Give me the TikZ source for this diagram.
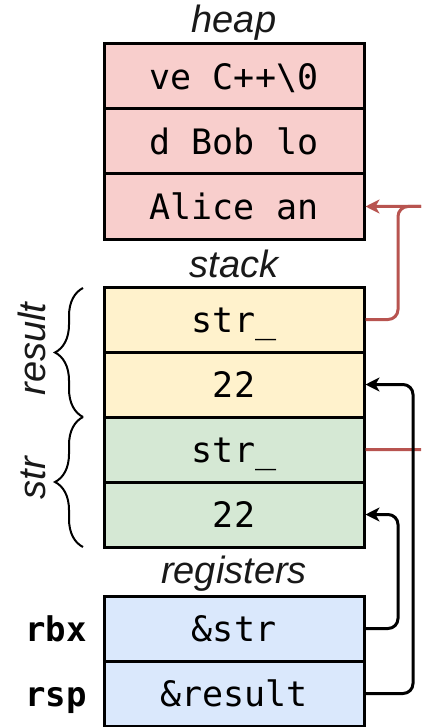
\documentclass[tikz,border=0pt]{standalone}
\usepackage{fontspec}
\setmainfont{Liberation Sans}
\setsansfont{Liberation Sans}
\setmonofont{DejaVu Sans Mono}
\usetikzlibrary{arrows.meta,decorations.pathreplacing}
\definecolor{heapc}{HTML}{F8CECC}
\definecolor{resc}{HTML}{FFF2CC}
\definecolor{strc}{HTML}{D5E8D4}
\definecolor{regc}{HTML}{DAE8FC}
\definecolor{redl}{HTML}{B85450}
\begin{document}
\begin{tikzpicture}[x=1pt,y=-1pt,
  cell/.style={draw=black,line width=3pt,minimum width=260pt,minimum height=65pt,inner sep=0pt,
    text height=26pt,text depth=0pt,font=\ttfamily\fontsize{35}{40}\selectfont},
  lbl/.style={font=\sffamily\itshape\fontsize{38}{44}\selectfont,inner sep=0pt,text=black!90},
  reg/.style={font=\ttfamily\bfseries\fontsize{34}{40}\selectfont,inner sep=0pt,anchor=base east},
  conn/.style={line width=3pt,rounded corners=10pt},
  tip/.style={-{Stealth[length=14pt,width=14pt,inset=4pt]}},
  brc/.style={line width=2pt,decorate,decoration={brace,amplitude=28pt}}]
\useasboundingbox (0,0) rectangle (421,727);
% heap
\node[lbl,anchor=base] (heaplbl) at (234,33) {heap};
\node[cell,fill=heapc] (h1) at (234,76.5) {ve C++\textbackslash 0};
\node[cell,fill=heapc] (h2) at (234,141.5) {d Bob lo};
\node[cell,fill=heapc] (h3) at (234,206.5) {Alice an};
% stack
\node[lbl,anchor=base] (stacklbl) at (234,277) {stack};
\node[cell,fill=resc] (s1) at (234,319.5) {str\_};
\node[cell,fill=resc] (s2) at (234,384.5) {22};
\node[cell,fill=strc] (s3) at (234,449.5) {str\_};
\node[cell,fill=strc] (s4) at (234,514.5) {22};
% registers
\node[lbl,anchor=base] (reglbl) at (234,583) {registers};
\node[cell,fill=regc] (r1) at (234,628.5) {\&str};
\node[cell,fill=regc] (r2) at (234,693.5) {\&result};
\node[reg] (rbx) at (87,641.5) {rbx};
\node[reg] (rsp) at (87,706.5) {rsp};
% braces
\draw[brc] (83,417) -- (83,288);
\draw[brc] (83,547) -- (83,417);
\node[lbl,rotate=90,anchor=base] (reslbl) at (45,349) {result};
\node[lbl,rotate=90,anchor=base] (strlbl) at (45,478) {str};
% connectors
\begin{scope}
\clip (0,0) rectangle (421,727);
\draw[conn,redl] (s1.east) -| (398,206.5) -- (450,206.5);
\draw[conn,redl,tip] (s3.east) -| (450,206.5) -- (h3.east);
\draw[conn,black,tip] (r1.east) -| (398,514.5) -- (s4.east);
\draw[conn,black,tip] (r2.east) -| (413,384.5) -- (s2.east);
\end{scope}
\end{tikzpicture}
\end{document}
